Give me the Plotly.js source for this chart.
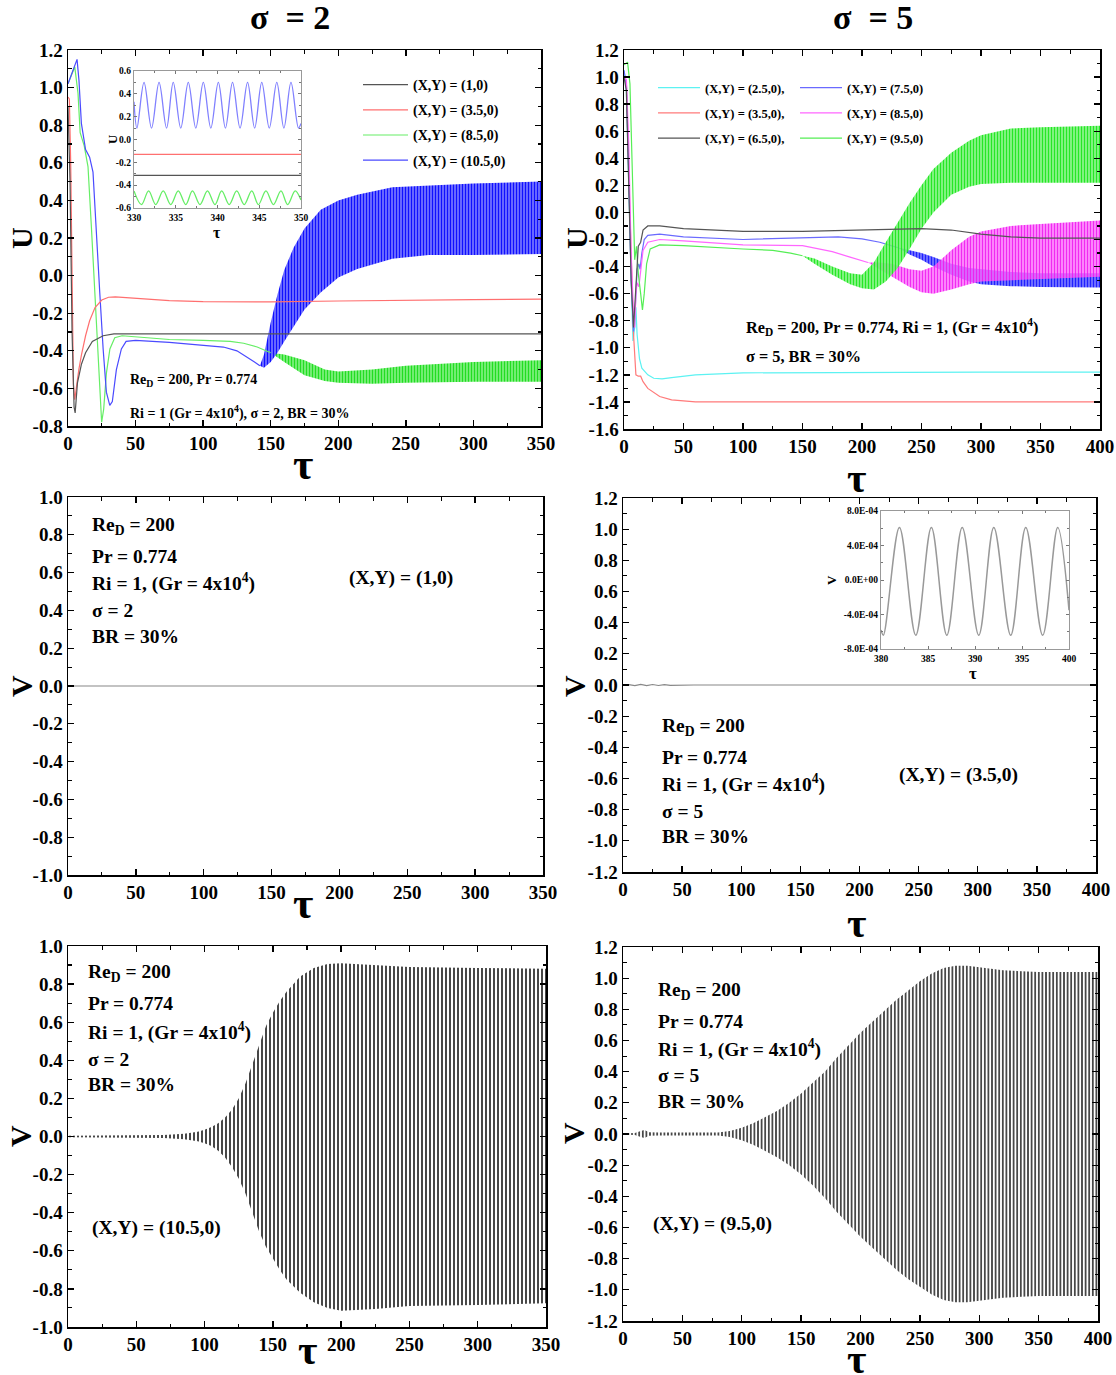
<!DOCTYPE html>
<html><head><meta charset="utf-8">
<script src="https://cdn.plot.ly/plotly-3.0.1.min.js"></script>
<style>body{margin:0;background:#fff}#chart{width:1116px;height:1375px}</style>
</head><body><div id="chart"></div>
<script>
// ---------------- DATA ----------------
// Tick values / labels
const tauTicks350 = [0,50,100,150,200,250,300,350];
const tauLabels350 = ['0','50','100','150','200','250','300','350'];
const tauTicks400 = [0,50,100,150,200,250,300,350,400];
const tauLabels400 = ['0','50','100','150','200','250','300','350','400'];
const yTicksTL = [-0.8,-0.6,-0.4,-0.2,0,0.2,0.4,0.6,0.8,1.0,1.2];
const yLabelsTL = ['-0.8','-0.6','-0.4','-0.2','0.0','0.2','0.4','0.6','0.8','1.0','1.2'];
const yTicksTR = [-1.6,-1.4,-1.2,-1.0,-0.8,-0.6,-0.4,-0.2,0,0.2,0.4,0.6,0.8,1.0,1.2];
const yLabelsTR = ['-1.6','-1.4','-1.2','-1.0','-0.8','-0.6','-0.4','-0.2','0.0','0.2','0.4','0.6','0.8','1.0','1.2'];
const yTicks10 = [-1.0,-0.8,-0.6,-0.4,-0.2,0,0.2,0.4,0.6,0.8,1.0];
const yLabels10 = ['-1.0','-0.8','-0.6','-0.4','-0.2','0.0','0.2','0.4','0.6','0.8','1.0'];
const yTicks12 = [-1.2,-1.0,-0.8,-0.6,-0.4,-0.2,0,0.2,0.4,0.6,0.8,1.0,1.2];
const yLabels12 = ['-1.2','-1.0','-0.8','-0.6','-0.4','-0.2','0.0','0.2','0.4','0.6','0.8','1.0','1.2'];
const insTLxTicks = [330,335,340,345,350];
const insTLxLabels = ['330','335','340','345','350'];
const insTLyTicks = [-0.6,-0.4,-0.2,0,0.2,0.4,0.6];
const insTLyLabels = ['-0.6','-0.4','-0.2','0.0','0.2','0.4','0.6'];
const insMRxTicks = [380,385,390,395,400];
const insMRxLabels = ['380','385','390','395','400'];
const insMRyTicks = [-8e-4,-4e-4,0,4e-4,8e-4];
const insMRyLabels = ['-8.0E-04','-4.0E-04','0.0E+00','4.0E-04','8.0E-04'];

// Panel (a) sigma=2, U
const tlBlackTau = [0,1.5,3,4.5,5.3,7,10,13,18,26,34,50,100,200,350];
const tlBlackU   = [0.9,0.5,-0.3,-0.7,-0.73,-0.57,-0.47,-0.41,-0.35,-0.32,-0.31,-0.31,-0.31,-0.31,-0.31];
const tlRedTau = [0,1,2,3,4,5,6,8,10,13,16,20,25,30,35,50,75,100,150,200,250,300,350];
const tlRedU   = [0.95,0.94,0.6,-0.1,-0.58,-0.66,-0.6,-0.5,-0.42,-0.32,-0.24,-0.17,-0.13,-0.115,-0.113,-0.12,-0.133,-0.138,-0.14,-0.135,-0.13,-0.128,-0.125];
const tlGreenTau = [0,3,5,7.4,9,12,14.8,17.3,19.8,22.2,24,24.9,26.4,28.4,31,34.6,40,50,75,100,120,130,140,150];
const tlGreenU   = [1.02,1.08,1.11,0.97,0.76,0.69,0.58,0.26,-0.09,-0.45,-0.69,-0.78,-0.71,-0.52,-0.39,-0.33,-0.32,-0.325,-0.34,-0.345,-0.35,-0.36,-0.38,-0.41];
const tlGreenBandTau = [150,160,175,190,200,225,250,300,350];
const tlGreenBandHi  = [-0.41,-0.42,-0.45,-0.5,-0.51,-0.5,-0.48,-0.46,-0.45];
const tlGreenBandLo  = [-0.41,-0.46,-0.53,-0.56,-0.57,-0.575,-0.57,-0.565,-0.565];
const tlBlueTau = [0,3.7,6.7,8.1,9.9,13,16,18.5,21,23.5,26,28.4,30.9,32.8,35.8,39.5,43,50,75,100,115,125,132,138,142];
const tlBlueU   = [1.02,1.09,1.15,1.04,0.81,0.67,0.63,0.55,0.26,-0.09,-0.39,-0.62,-0.69,-0.67,-0.5,-0.39,-0.35,-0.345,-0.355,-0.37,-0.38,-0.4,-0.43,-0.46,-0.48];
const tlBlueBandTau = [142,145,150,155,160,167,175,187,200,214,240,267,300,350];
const tlBlueBandHi  = [-0.48,-0.42,-0.25,-0.1,0.03,0.15,0.25,0.35,0.40,0.43,0.47,0.48,0.49,0.5];
const tlBlueBandLo  = [-0.48,-0.49,-0.46,-0.41,-0.35,-0.27,-0.18,-0.09,-0.01,0.035,0.09,0.11,0.11,0.115];
// inset of panel (a)
const insTLBlueTau = [330,330.35,331.2,332.1,333.0,333.9,334.7,335.6,336.5,337.4,338.3,339.2,340.1,340.95,341.8,342.7,343.6,344.45,345.3,346.2,347.1,347.95,348.8,349.7,350];
const insTLBlueU   = [0.33,0.1,0.5,0.1,0.5,0.1,0.5,0.1,0.5,0.1,0.5,0.1,0.5,0.1,0.5,0.1,0.5,0.1,0.5,0.1,0.5,0.1,0.5,0.1,0.14];
const insTLGreenTau = [330,330.9,331.75,332.6,333.5,334.4,335.3,336.2,337.0,337.9,338.8,339.7,340.5,341.4,342.3,343.2,344.1,344.9,345.8,346.7,347.6,348.4,349.3,350];
const insTLGreenU   = [-0.45,-0.57,-0.45,-0.57,-0.45,-0.57,-0.45,-0.57,-0.45,-0.57,-0.45,-0.57,-0.45,-0.57,-0.45,-0.57,-0.45,-0.57,-0.45,-0.57,-0.45,-0.57,-0.45,-0.53];
const insTLRedTau = [330,350];
const insTLRedU   = [-0.13,-0.13];
const insTLBlackTau = [330,350];
const insTLBlackU   = [-0.315,-0.315];

// Panel (b) sigma=5, U
const trCyanTau = [0,2,4,6,7.5,9,10,11,13,15,20,25,32,40,60,100,200,300,400];
const trCyanU   = [1.05,0.9,0.2,-0.6,-0.95,-0.85,-0.7,-0.9,-1.08,-1.15,-1.2,-1.225,-1.23,-1.22,-1.2,-1.185,-1.18,-1.18,-1.18];
const trRedTau = [0,2,4,6,8,10,12,14,16,20,25,30,40,50,60,100,400];
const trRedU   = [1.0,0.95,0.3,-0.4,-0.9,-1.2,-1.21,-1.21,-1.25,-1.3,-1.33,-1.36,-1.385,-1.395,-1.4,-1.4,-1.4];
const trBlackTau = [0,2,4,6,8,10,12,14,16,20,30,50,100,150,200,250,275,300,325,350,400];
const trBlackU   = [1.0,0.9,0.2,-0.5,-0.85,-0.55,-0.25,-0.22,-0.13,-0.1,-0.1,-0.12,-0.14,-0.14,-0.13,-0.12,-0.13,-0.16,-0.18,-0.19,-0.19];
const trBlueTau = [0,2,4,6,8,9.5,11,12.5,13.5,15,17,20,30,50,100,150,180,200,215,230];
const trBlueU   = [1.05,0.95,0.3,-0.5,-0.88,-0.7,-0.42,-0.38,-0.42,-0.3,-0.2,-0.17,-0.16,-0.18,-0.2,-0.19,-0.18,-0.195,-0.22,-0.26];
const trBlueBandTau = [230,240,250,260,275,290,300,325,350,400];
const trBlueBandHi  = [-0.26,-0.28,-0.3,-0.33,-0.38,-0.41,-0.42,-0.44,-0.45,-0.45];
const trBlueBandLo  = [-0.26,-0.31,-0.35,-0.4,-0.46,-0.51,-0.53,-0.545,-0.55,-0.555];
const trMagTau = [0,2,4,6,8,9,10,11,12.5,14,16,20,30,50,100,150,175,190,205];
const trMagU   = [1.0,0.98,0.5,-0.3,-0.75,-0.85,-0.6,-0.52,-0.55,-0.45,-0.28,-0.22,-0.2,-0.21,-0.24,-0.245,-0.29,-0.33,-0.37];
const trMagBandTau = [205,215,225,240,250,260,275,290,300,325,350,400];
const trMagBandHi  = [-0.37,-0.37,-0.38,-0.42,-0.43,-0.4,-0.28,-0.18,-0.14,-0.1,-0.085,-0.06];
const trMagBandLo  = [-0.37,-0.42,-0.47,-0.55,-0.59,-0.6,-0.57,-0.53,-0.51,-0.5,-0.49,-0.475];
const trGreenTau = [0,3,5,7,9,10.5,12,14,15.5,17,19,22,30,50,75,100,125,140,150];
const trGreenU   = [1.09,1.11,0.95,0.3,-0.35,-0.25,-0.45,-0.6,-0.72,-0.6,-0.38,-0.27,-0.24,-0.245,-0.26,-0.27,-0.28,-0.3,-0.32];
const trGreenBandTau = [150,160,175,190,200,210,220,230,240,250,260,275,290,300,325,350,400];
const trGreenBandHi  = [-0.32,-0.34,-0.4,-0.45,-0.46,-0.37,-0.22,-0.07,0.07,0.2,0.32,0.44,0.53,0.57,0.62,0.63,0.64];
const trGreenBandLo  = [-0.32,-0.38,-0.46,-0.53,-0.56,-0.57,-0.51,-0.41,-0.27,-0.12,0.0,0.13,0.19,0.21,0.22,0.22,0.22];

// Panel (c) sigma=2, V at (1,0)
const mlTau = [0,350];
const mlV   = [0,0];
// Panel (d) sigma=5, V at (3.5,0)
const mrTau = [0,5,10,15,20,25,30,35,40,50,60,400];
const mrV   = [0,0.002,-0.004,0.004,-0.004,0.003,-0.003,0.002,-0.002,0.001,0,0];
const insMRTau = [380,380.25,381.96,383.7,385.36,387.0,388.64,390.4,392.0,393.8,395.4,397.2,398.8,400];
const insMRV   = [-5.8e-4,-6.4e-4,6.1e-4,-6.4e-4,6.1e-4,-6.4e-4,6.1e-4,-6.4e-4,6.1e-4,-6.4e-4,6.1e-4,-6.4e-4,6.1e-4,-3.5e-4];

// Panel (e) sigma=2, V at (10.5,0): oscillation envelope
const blTau = [0,50,70,85,95,100,105,110,115,120,125,130,135,140,145,150,155,160,170,180,190,200,225,250,300,350];
const blHi  = [0.004,0.005,0.008,0.015,0.025,0.035,0.05,0.07,0.1,0.14,0.2,0.28,0.38,0.49,0.58,0.65,0.71,0.76,0.84,0.885,0.905,0.91,0.9,0.89,0.885,0.88];
const blLo  = [-0.004,-0.005,-0.008,-0.015,-0.025,-0.035,-0.05,-0.075,-0.11,-0.16,-0.22,-0.3,-0.4,-0.5,-0.58,-0.64,-0.7,-0.75,-0.82,-0.87,-0.9,-0.915,-0.905,-0.89,-0.885,-0.875];
// Panel (f) sigma=5, V at (9.5,0): oscillation envelope
const brTau = [0,10,15,18,22,30,50,80,90,100,110,120,130,140,150,160,170,180,190,200,210,220,230,240,250,260,270,280,290,300,320,350,400];
const brHi  = [0.003,0.006,0.02,0.025,0.012,0.01,0.01,0.01,0.02,0.04,0.07,0.11,0.15,0.2,0.26,0.33,0.4,0.49,0.57,0.65,0.72,0.79,0.86,0.92,0.98,1.03,1.065,1.08,1.08,1.07,1.05,1.04,1.04];
const brLo  = [-0.003,-0.006,-0.02,-0.025,-0.012,-0.01,-0.01,-0.01,-0.02,-0.04,-0.07,-0.11,-0.15,-0.2,-0.26,-0.33,-0.41,-0.5,-0.58,-0.66,-0.73,-0.8,-0.87,-0.93,-0.98,-1.03,-1.065,-1.08,-1.08,-1.07,-1.05,-1.04,-1.04];

// ---------------- BUILD ----------------
const W = 1116, H = 1375;
const FF = "'Liberation Serif', 'Times New Roman', serif";
const xd = (a,b) => [a/W, b/W];
const yd = (top,bot) => [1-bot/H, 1-top/H];
const px = v => v/W, py = v => 1 - v/H;

const traces = [];
let gid = 0;
function line(x, y, color, xa, ya, opt) {
  opt = opt || {};
  const t = {type:'scatter', mode:'lines', x:x, y:y, xaxis:xa, yaxis:ya,
    line:{color:color, width:opt.width || 1.2, shape:opt.shape || 'linear'},
    showlegend: !!opt.name, name: opt.name || '', hoverinfo:'skip'};
  if (opt.name) { t.legend = opt.legend || 'legend'; t.legendgroup = 'g' + (gid++); if (opt.rank) t.legendrank = opt.rank; }
  traces.push(t);
}
function band(x, lo, hi, fg, bg, size, sol, xa, ya) {
  traces.push({type:'scatter', mode:'lines', x:x, y:lo, xaxis:xa, yaxis:ya,
    line:{width:0, color:fg}, showlegend:false, hoverinfo:'skip'});
  traces.push({type:'scatter', mode:'lines', x:x, y:hi, xaxis:xa, yaxis:ya,
    line:{width:0, color:fg}, fill:'tonexty', fillcolor:bg,
    fillpattern:{shape:'|', size:size, solidity:sol, fgcolor:fg, bgcolor:bg},
    showlegend:false, hoverinfo:'skip'});
}

// (a)
band(tlGreenBandTau, tlGreenBandLo, tlGreenBandHi, '#22dd22', 'rgba(120,240,120,0.85)', 3, 0.5, 'x', 'y');
band(tlBlueBandTau, tlBlueBandLo, tlBlueBandHi, '#1010ff', 'rgba(120,120,255,0.9)', 3, 0.5, 'x', 'y');
line(tlGreenTau, tlGreenU, '#66ee66', 'x', 'y', {name:'(X,Y) = (8.5,0)', rank:3});
line(tlBlueTau, tlBlueU, '#4a4aff', 'x', 'y', {name:'(X,Y) = (10.5,0)', rank:4});
line(tlRedTau, tlRedU, '#ff6f6f', 'x', 'y', {name:'(X,Y) = (3.5,0)', rank:2});
line(tlBlackTau, tlBlackU, '#555555', 'x', 'y', {name:'(X,Y) = (1,0)', rank:1});
// (b)
line(trCyanTau, trCyanU, '#5cf2f2', 'x2', 'y2', {name:'(X,Y) = (2.5,0),', legend:'legend2', rank:1});
line(trRedTau, trRedU, '#ff7a7a', 'x2', 'y2', {name:'(X,Y) = (3.5,0),', legend:'legend2', rank:2});
band(trBlueBandTau, trBlueBandLo, trBlueBandHi, '#2020ff', 'rgba(110,110,255,0.85)', 3, 0.5, 'x2', 'y2');
line(trBlueTau, trBlueU, '#6a6aff', 'x2', 'y2', {name:'(X,Y) = (7.5,0)', legend:'legend3', rank:1});
band(trMagBandTau, trMagBandLo, trMagBandHi, 'rgba(240,30,240,0.9)', 'rgba(255,120,255,0.7)', 3, 0.5, 'x2', 'y2');
line(trMagTau, trMagU, '#ff66ff', 'x2', 'y2', {name:'(X,Y) = (8.5,0)', legend:'legend3', rank:2});
band(trGreenBandTau, trGreenBandLo, trGreenBandHi, 'rgba(30,230,30,0.95)', 'rgba(130,245,130,0.8)', 3, 0.5, 'x2', 'y2');
line(trGreenTau, trGreenU, '#55ee55', 'x2', 'y2', {name:'(X,Y) = (9.5,0)', legend:'legend3', rank:3});
line(trBlackTau, trBlackU, '#555555', 'x2', 'y2', {name:'(X,Y) = (6.5,0),', legend:'legend2', rank:3});
// (c)
line(mlTau, mlV, '#888888', 'x3', 'y3');
// (d)
line(mrTau, mrV, '#888888', 'x4', 'y4');
// (e)
band(blTau, blLo, blHi, '#333333', 'rgba(255,255,255,0)', 4, 0.45, 'x5', 'y5');
// (f)
band(brTau, brLo, brHi, '#333333', 'rgba(255,255,255,0)', 3.6, 0.45, 'x6', 'y6');
// inset (a)
line(insTLBlueTau, insTLBlueU, '#8080ff', 'x7', 'y7', {shape:'spline', width:1.3});
line(insTLGreenTau, insTLGreenU, '#66ee66', 'x7', 'y7', {shape:'spline', width:1.3});
line(insTLRedTau, insTLRedU, '#ff7070', 'x7', 'y7', {width:1.2});
line(insTLBlackTau, insTLBlackU, '#555555', 'x7', 'y7', {width:1.2});
// inset (d)
line(insMRTau, insMRV, '#999999', 'x8', 'y8', {shape:'spline', width:1.5});

// axes
const tickFont = {family:FF, size:19, weight:'bold', color:'#000'};
function mainX(dom, anchor, range, tv, tt, minorD) {
  return {domain:dom, anchor:anchor, range:range, tickmode:'array', tickvals:tv, ticktext:tt,
    ticks:'inside', ticklen:6, tickwidth:1.3, tickcolor:'#000', showline:true, linecolor:'#000', linewidth:1.5,
    mirror:'ticks', showgrid:false, zeroline:false, tickfont:tickFont, fixedrange:true,
    minor:{tickmode:'linear', tick0:0, dtick:minorD, ticks:'inside', ticklen:3.5, tickcolor:'#000', tickwidth:1.1, showgrid:false}};
}
function mainY(dom, anchor, range, tv, tt) {
  return {domain:dom, anchor:anchor, range:range, tickmode:'array', tickvals:tv, ticktext:tt,
    ticks:'inside', ticklen:6, tickwidth:1.3, tickcolor:'#000', showline:true, linecolor:'#000', linewidth:1.5,
    mirror:'ticks', showgrid:false, zeroline:false, tickfont:tickFont, fixedrange:true,
    minor:{tickmode:'linear', tick0:0, dtick:0.1, ticks:'inside', ticklen:3.5, tickcolor:'#000', tickwidth:1.1, showgrid:false}};
}
function insAx(dom, anchor, range, tv, tt, minor) {
  return {domain:dom, anchor:anchor, range:range, tickmode:'array', tickvals:tv, ticktext:tt,
    ticks:'inside', ticklen:3, tickwidth:1, tickcolor:'#777', showline:true, linecolor:'#999', linewidth:1.2,
    mirror:'ticks', showgrid:false, zeroline:false, fixedrange:true,
    tickfont:{family:FF, size:9.5, weight:'bold', color:'#000'},
    minor:minor};
}

const annFont = s => ({family:FF, size:s, weight:'bold', color:'#000'});
const annotations = [];
function ann(text, x, y, size, anchor, angle, yanchor, yshift) {
  const a = {text:text, xref:'paper', yref:'paper', x:px(x), y:py(y), xanchor:anchor || 'left', yanchor:yanchor || 'middle', showarrow:false, font:annFont(size)};
  if (angle) a.textangle = angle;
  if (yshift) a.yshift = yshift;
  annotations.push(a);
}
// column titles
ann('σ  = 2', 290, 18, 34, 'center');
ann('σ  = 5', 873, 18, 34, 'center');
// axis titles
ann('U', 22, 238, 30, 'center', -90);
ann('U', 577, 238, 30, 'center', -90);
ann('V', 21, 686, 30, 'center', -90);
ann('V', 574, 686, 30, 'center', -90);
ann('V', 20, 1136, 30, 'center', -90);
ann('V', 573, 1133, 30, 'center', -90);
ann('τ', 303, 464, 44, 'center');
ann('τ', 857, 478, 42, 'center');
ann('τ', 303, 904, 44, 'center');
ann('τ', 857, 923, 42, 'center');
ann('τ', 307, 1375, 42, 'center', 0, 'bottom');
ann('τ', 857, 1375, 42, 'center', 0, 'bottom', -9);
// inset titles
ann('U', 112, 139, 13, 'center', -90);
ann('τ', 217, 232, 16, 'center');
ann('V', 831, 580, 13, 'center', -90);
ann('τ', 973, 673, 17, 'center');
// parameter text
ann('Re<sub>D</sub> = 200, Pr = 0.774', 128, 381, 14);
ann('Ri = 1 (Gr = 4x10<sup>4</sup>), σ = 2, BR = 30%', 128, 412, 14);
ann('Re<sub>D</sub> = 200, Pr = 0.774, Ri = 1, (Gr = 4x10<sup>4</sup>)', 744, 327, 16.3);
ann('σ = 5, BR = 30%', 744, 356, 16.3);
const blockLines = ['Re<sub>D</sub> = 200', 'Pr = 0.774', 'Ri = 1, (Gr = 4x10<sup>4</sup>)'];
function block(x, ys, sig) {
  ann(blockLines[0], x, ys[0], 19.5);
  ann(blockLines[1], x, ys[1], 19.5);
  ann(blockLines[2], x, ys[2], 19.5);
  ann('σ = ' + sig, x, ys[3], 19.5);
  ann('BR = 30%', x, ys[4], 19.5);
}
block(90, [526,556,583,611,636], 2);
ann('(X,Y) = (1,0)', 347, 578, 19.5);
block(660, [727,757,783,811,836], 5);
ann('(X,Y) = (3.5,0)', 897, 775, 19.5);
block(86, [973,1003,1031,1059,1084], 2);
ann('(X,Y) = (10.5,0)', 90, 1228, 19.5);
block(656, [991,1021,1048,1075,1101], 5);
ann('(X,Y) = (9.5,0)', 651, 1224, 19.5);

const legBase = (x, y, size, iw, gap) => ({x:px(x), y:py(y), xanchor:'left', yanchor:'top', bgcolor:'rgba(0,0,0,0)', borderwidth:0,
  font:{family:FF, size:size, weight:'bold', color:'#000'}, tracegroupgap:gap, itemwidth:iw, itemclick:false, itemdoubleclick:false});

const layout = {
  width:W, height:H, margin:{l:0, r:0, t:0, b:0}, paper_bgcolor:'#fff', plot_bgcolor:'#fff',
  font:{family:FF, color:'#000'},
  showlegend:true,
  legend: legBase(358, 69, 14, 45, 4),
  legend2: legBase(653, 73, 12.5, 42, 6),
  legend3: legBase(795, 73, 12.5, 42, 6),
  xaxis:  mainX(xd(68,541), 'y', [0,350], tauTicks350, tauLabels350, 25),
  yaxis:  mainY(yd(50,426), 'x', [-0.8,1.2], yTicksTL, yLabelsTL),
  xaxis2: mainX(xd(624,1100), 'y2', [0,400], tauTicks400, tauLabels400, 25),
  yaxis2: mainY(yd(50,429), 'x2', [-1.6,1.2], yTicksTR, yLabelsTR),
  xaxis3: mainX(xd(68,543), 'y3', [0,350], tauTicks350, tauLabels350, 25),
  yaxis3: mainY(yd(497,875), 'x3', [-1.0,1.0], yTicks10, yLabels10),
  xaxis4: mainX(xd(623,1096), 'y4', [0,400], tauTicks400, tauLabels400, 25),
  yaxis4: mainY(yd(498,872), 'x4', [-1.2,1.2], yTicks12, yLabels12),
  xaxis5: mainX(xd(68,546), 'y5', [0,350], tauTicks350, tauLabels350, 25),
  yaxis5: mainY(yd(946,1327), 'x5', [-1.0,1.0], yTicks10, yLabels10),
  xaxis6: mainX(xd(623,1098), 'y6', [0,400], tauTicks400, tauLabels400, 25),
  yaxis6: mainY(yd(947,1321), 'x6', [-1.2,1.2], yTicks12, yLabels12),
  xaxis7: insAx(xd(134,301), 'y7', [330,350], insTLxTicks, insTLxLabels, {tickmode:'linear', tick0:330, dtick:2.5, ticks:'inside', ticklen:2, tickcolor:'#777'}),
  yaxis7: insAx(yd(71,208), 'x7', [-0.6,0.6], insTLyTicks, insTLyLabels, {tickmode:'linear', tick0:0, dtick:0.1, ticks:'inside', ticklen:2, tickcolor:'#777'}),
  xaxis8: insAx(xd(881,1069), 'y8', [380,400], insMRxTicks, insMRxLabels, {tickmode:'linear', tick0:380, dtick:2.5, ticks:'inside', ticklen:2, tickcolor:'#777'}),
  yaxis8: insAx(yd(511,649), 'x8', [-8e-4,8e-4], insMRyTicks, insMRyLabels, {tickmode:'linear', tick0:0, dtick:2e-4, ticks:'inside', ticklen:2, tickcolor:'#777'}),
  annotations: annotations
};

Plotly.newPlot('chart', traces, layout, {staticPlot:true, displayModeBar:false});
</script></body></html>
